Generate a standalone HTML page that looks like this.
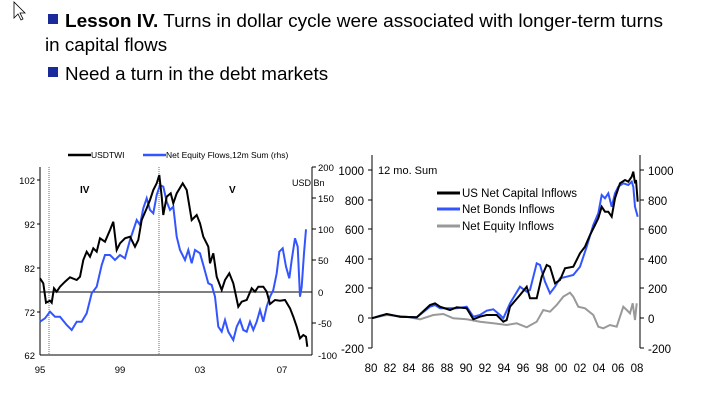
<!DOCTYPE html>
<html><head><meta charset="utf-8"><style>
body{margin:0;width:702px;height:403px;background:#fff;overflow:hidden;font-family:"Liberation Sans",sans-serif}
svg{position:absolute;left:0;top:0}
</style></head><body>
<svg width="702" height="403" xmlns="http://www.w3.org/2000/svg" font-family="Liberation Sans, sans-serif">
<path d="M14 2 L14 18 L18 14 L21 20 L23 19 L20 13 L25 13 Z" fill="#fff" stroke="#000" stroke-width="0.8"/>
<rect x="48" y="14" width="10" height="10" fill="#1a2a9a"/>
<text x="65" y="27" font-size="18.8" textLength="598" lengthAdjust="spacingAndGlyphs"><tspan font-weight="bold">Lesson IV.</tspan> Turns in dollar cycle were associated with longer-term turns</text>
<text x="45" y="51" font-size="18.8">in capital flows</text>
<rect x="48" y="67" width="10" height="10" fill="#1a2a9a"/>
<text x="65" y="80" font-size="18.8">Need a turn in the debt markets</text>

<!-- left chart -->
<g font-size="9.5">
<line x1="40" y1="167" x2="40" y2="355" stroke="#000"/>
<line x1="312" y1="167" x2="312" y2="355" stroke="#000"/>
<line x1="40" y1="292" x2="312" y2="292" stroke="#000"/>
<line x1="40" y1="355" x2="312" y2="355" stroke="#000"/>
<line x1="49" y1="167" x2="49" y2="355" stroke="#333" stroke-width="0.7" stroke-dasharray="1,1"/>
<line x1="159" y1="167" x2="159" y2="355" stroke="#333" stroke-width="0.7" stroke-dasharray="1,1"/>
<g stroke="#000"><line x1="37" y1="180" x2="40" y2="180"/><line x1="37" y1="224" x2="40" y2="224"/><line x1="37" y1="268" x2="40" y2="268"/><line x1="37" y1="312" x2="40" y2="312"/>
<line x1="312" y1="167" x2="316" y2="167"/><line x1="312" y1="198" x2="316" y2="198"/><line x1="312" y1="229" x2="316" y2="229"/><line x1="312" y1="260" x2="316" y2="260"/><line x1="312" y1="323" x2="316" y2="323"/></g>
<g text-anchor="end"><text x="35" y="184">102</text><text x="35" y="228">92</text><text x="35" y="272">82</text><text x="35" y="316">72</text><text x="35" y="359">62</text></g>
<g><text x="318" y="171">200</text><text x="318" y="202">150</text><text x="318" y="233">100</text><text x="318" y="264">50</text><text x="318" y="296">0</text><text x="318" y="327">-50</text><text x="318" y="359">-100</text></g>
<g text-anchor="middle"><text x="40" y="373">95</text><text x="120" y="373">99</text><text x="200" y="373">03</text><text x="282" y="373">07</text></g>
<text x="80" y="193" font-weight="bold" font-size="10">IV</text>
<text x="229" y="193" font-weight="bold" font-size="10">V</text>
<text x="292" y="186" font-size="9">USD Bn</text>
<line x1="68" y1="155" x2="91" y2="155" stroke="#000" stroke-width="2.5"/>
<text x="91" y="158" font-size="8.5">USDTWI</text>
<line x1="143" y1="155" x2="166" y2="155" stroke="#3355ff" stroke-width="2.5"/>
<text x="166" y="158" font-size="8.5">Net Equity Flows,12m Sum (rhs)</text>
</g>
<polyline id="lb" fill="none" stroke="#3355ff" stroke-width="2"/>
<polyline id="lk" fill="none" stroke="#000" stroke-width="2"/>

<!-- right chart -->
<g font-size="11.5">
<line x1="372" y1="155" x2="372" y2="348" stroke="#000"/>
<line x1="640" y1="155" x2="640" y2="348" stroke="#000"/>
<g stroke="#000"><line x1="368" y1="170" x2="372" y2="170"/><line x1="368" y1="200" x2="372" y2="200"/><line x1="368" y1="229" x2="372" y2="229"/><line x1="368" y1="259" x2="372" y2="259"/><line x1="368" y1="288" x2="372" y2="288"/><line x1="368" y1="318" x2="372" y2="318"/><line x1="368" y1="348" x2="372" y2="348"/>
<line x1="640" y1="170" x2="644" y2="170"/><line x1="640" y1="200" x2="644" y2="200"/><line x1="640" y1="229" x2="644" y2="229"/><line x1="640" y1="259" x2="644" y2="259"/><line x1="640" y1="288" x2="644" y2="288"/><line x1="640" y1="318" x2="644" y2="318"/><line x1="640" y1="348" x2="644" y2="348"/></g>
<g text-anchor="end"><text x="364" y="175">1000</text><text x="364" y="205">800</text><text x="364" y="234">600</text><text x="364" y="264">400</text><text x="364" y="293">200</text><text x="364" y="323">0</text><text x="364" y="353">-200</text></g>
<g><text x="648" y="175">1000</text><text x="648" y="205">800</text><text x="648" y="234">600</text><text x="648" y="264">400</text><text x="648" y="293">200</text><text x="648" y="323">0</text><text x="648" y="353">-200</text></g>
<g id="xl" text-anchor="middle"></g>
<text x="378" y="174" font-size="11">12 mo. Sum</text>
<line x1="437" y1="193" x2="460" y2="193" stroke="#000" stroke-width="3"/>
<text x="462" y="197">US Net Capital Inflows</text>
<line x1="437" y1="209" x2="460" y2="209" stroke="#3355ff" stroke-width="3"/>
<text x="462" y="213">Net Bonds Inflows</text>
<line x1="437" y1="226" x2="460" y2="226" stroke="#999" stroke-width="3"/>
<text x="462" y="230">Net Equity Inflows</text>
</g>
<polyline id="rg" fill="none" stroke="#999" stroke-width="2"/>
<polyline id="rb" fill="none" stroke="#3355ff" stroke-width="2"/>
<polyline id="rk" fill="none" stroke="#000" stroke-width="2"/>
</svg>
<script>
function set(id,pts){document.getElementById(id).setAttribute('points',pts.map(p=>(p[0]/3+ox).toFixed(1)+','+(140+p[1]/3).toFixed(1)).join(' '));}
var ox=0;
set('lk',[[120,415],[130,430],[138,488],[150,482],[155,488],[162,445],[170,455],[180,440],[195,425],[210,412],[230,420],[240,410],[250,360],[260,335],[270,350],[280,325],[290,335],[300,295],[315,305],[330,270],[340,245],[350,330],[360,310],[375,295],[390,290],[405,320],[415,300],[425,240],[440,205],[450,180],[460,150],[470,130],[478,105],[485,170],[490,225],[500,170],[512,160],[520,190],[530,160],[548,130],[560,150],[575,240],[590,225],[600,250],[610,290],[625,320],[630,370],[640,340],[650,410],[665,450],[675,420],[688,400],[700,430],[715,500],[725,485],[740,480],[755,445],[765,455],[775,440],[790,440],[800,455],[810,492],[825,480],[840,482],[855,480],[870,505],[880,530],[890,560],[900,595],[910,585],[918,590],[922,620]]);
set('lb',[[120,545],[135,535],[150,515],[165,530],[180,530],[200,555],[215,570],[230,545],[245,545],[260,520],[275,460],[290,440],[305,375],[315,345],[330,345],[345,360],[360,345],[375,355],[390,300],[410,240],[420,255],[430,205],[440,175],[450,210],[460,220],[470,165],[480,135],[490,140],[500,185],[510,210],[520,200],[530,290],[540,330],[555,360],[565,330],[575,370],[585,330],[600,340],[610,375],[625,430],[635,435],[645,470],[655,560],[665,575],[675,540],[685,575],[700,600],[710,560],[720,540],[730,570],[740,575],[750,545],[760,570],[770,545],[780,510],[790,545],[800,500],[810,470],[820,450],[830,400],[838,335],[848,325],[858,380],[868,415],[875,360],[885,295],[893,320],[900,470],[905,440],[912,340],[918,268]]);
ox=340;
set('rg',[[95,535],[140,525],[200,530],[240,538],[280,525],[310,522],[340,535],[380,538],[420,545],[460,550],[500,555],[530,550],[560,562],[590,545],[610,510],[630,515],[650,495],[670,470],[690,458],[700,470],[715,500],[735,505],[760,525],[775,560],[790,565],[810,555],[830,560],[840,530],[850,500],[860,510],[870,520],[878,490],[885,540],[890,490]]);
set('rb',[[95,535],[140,522],[180,530],[230,532],[270,500],[285,495],[300,505],[330,505],[350,505],[380,500],[400,530],[420,525],[440,512],[460,508],[480,525],[490,535],[510,490],[540,440],[560,455],[570,450],[590,370],[600,375],[615,425],[630,460],[645,440],[660,415],[680,410],[700,405],[720,380],[740,320],[760,255],[775,220],[785,165],[795,175],[805,160],[815,200],[825,160],[835,140],[850,130],[865,135],[875,125],[880,140],[885,200],[893,230]]);
set('rk',[[95,535],[140,522],[180,530],[230,532],[270,495],[285,490],[300,500],[330,510],[350,502],[380,505],[400,538],[420,530],[440,525],[470,525],[490,545],[500,540],[510,500],[540,465],[560,440],[570,475],[590,475],[605,410],[620,375],[630,380],[645,430],[660,420],[675,385],[700,380],[720,340],[735,320],[750,285],[765,255],[775,235],[785,200],[795,215],[805,215],[815,230],[825,175],[840,130],[855,120],[865,125],[875,110],[880,95],[885,130],[888,120],[893,185]]);
var g=document.getElementById('xl'),h='';
['80','82','84','86','88','90','92','94','96','98','00','02','04','06','08'].forEach((s,i)=>{h+='<text x="'+(371+i*19)+'" y="372">'+s+'</text>';});
g.innerHTML=h;
</script>
</body></html>
